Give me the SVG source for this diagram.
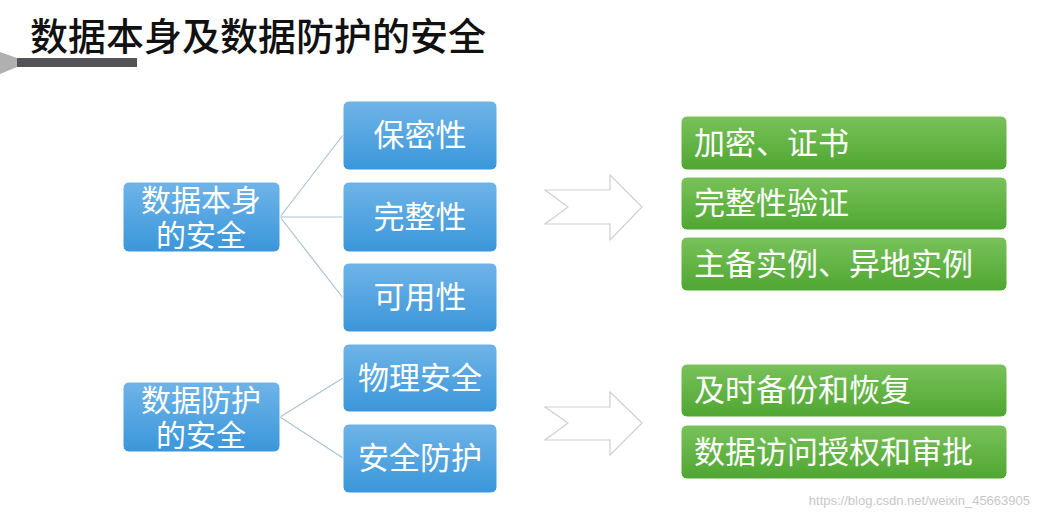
<svg xmlns="http://www.w3.org/2000/svg" width="1040" height="519" viewBox="0 0 1040 519">
<defs>
<linearGradient id="gb" x1="0" y1="0" x2="0" y2="1"><stop offset="0" stop-color="#6fb4e8"/><stop offset="1" stop-color="#3a96da"/></linearGradient>
<linearGradient id="gg" x1="0" y1="0" x2="0" y2="1"><stop offset="0" stop-color="#79c25a"/><stop offset="1" stop-color="#4fa631"/></linearGradient>
<style>
.b{fill:url(#gb);stroke:#fff;stroke-width:1}
.g{fill:url(#gg);stroke:#fff;stroke-width:1}
.t{font-family:"Noto Sans CJK SC",sans-serif;fill:#fff;font-size:31px}
.s{font-size:30px}
.c{stroke:#a9c3d6;stroke-width:1.2;fill:none}
.ar{fill:#fff;stroke:#d0d0d0;stroke-width:1.2}
</style>
</defs>
<rect width="1040" height="519" fill="#fff"/>
<polygon points="0,52 17,58 17,67 0,74" fill="#b0b0b0"/>
<rect x="17" y="58" width="120" height="9" fill="#545458"/>
<text x="30" y="50" font-family="Noto Sans CJK SC,sans-serif" font-size="38" font-weight="500" fill="#111">数据本身及数据防护的安全</text>
<g id="connectors">
<path class="c" d="M280,217 L343,135 M280,217 L343,217 M280,217 L343,298 M280,417 L343,378 M280,417 L343,458"/>
<polygon class="ar" points="545,190 610,190 610,175 642,207 610,240 610,224 545,224 568,207"/>
<polygon class="ar" points="545,407 610,407 610,392 642,423 610,455 610,440 545,440 568,423"/>
</g>
<g id="n1"><rect class="b" x="123" y="182" width="157" height="70" rx="6"/><text class="t s" x="201" y="211" text-anchor="middle">数据本身</text><text class="t s" x="201" y="246" text-anchor="middle">的安全</text></g>
<g id="n2"><rect class="b" x="123" y="382" width="157" height="70" rx="6"/><text class="t s" x="201" y="411" text-anchor="middle">数据防护</text><text class="t s" x="201" y="446" text-anchor="middle">的安全</text></g>
<g id="n3"><rect class="b" x="343" y="101" width="154" height="69" rx="6"/><text class="t" x="420" y="146" text-anchor="middle">保密性</text></g>
<g id="n4"><rect class="b" x="343" y="182" width="154" height="70" rx="6"/><text class="t" x="420" y="228" text-anchor="middle">完整性</text></g>
<g id="n5"><rect class="b" x="343" y="263" width="154" height="69" rx="6"/><text class="t" x="420" y="308" text-anchor="middle">可用性</text></g>
<g id="n6"><rect class="b" x="343" y="344" width="154" height="68" rx="6"/><text class="t" x="420" y="389" text-anchor="middle">物理安全</text></g>
<g id="n7"><rect class="b" x="343" y="424" width="154" height="69" rx="6"/><text class="t" x="420" y="469" text-anchor="middle">安全防护</text></g>
<g id="g1"><rect class="g" x="681" y="116" width="326" height="54" rx="6"/><text class="t" x="694" y="154">加密、证书</text></g>
<g id="g2"><rect class="g" x="681" y="177" width="326" height="53" rx="6"/><text class="t" x="694" y="214">完整性验证</text></g>
<g id="g3"><rect class="g" x="681" y="237" width="326" height="54" rx="6"/><text class="t" x="694" y="275">主备实例、异地实例</text></g>
<g id="g4"><rect class="g" x="681" y="364" width="326" height="53" rx="6"/><text class="t" x="694" y="401">及时备份和恢复</text></g>
<g id="g5"><rect class="g" x="681" y="425" width="326" height="54" rx="6"/><text class="t" x="694" y="463">数据访问授权和审批</text></g>
<text x="1030" y="505" text-anchor="end" font-family="Liberation Sans,sans-serif" font-size="13" fill="#c8c8c8">https://blog.csdn.net/weixin_45663905</text>
</svg>
